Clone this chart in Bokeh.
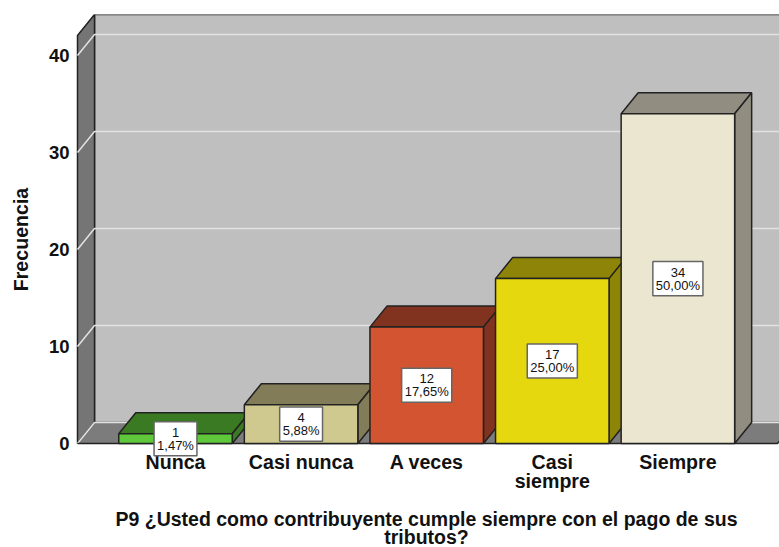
from bokeh.plotting import figure
from bokeh.models import Label, FixedTicker
from bokeh.embed import file_html
from bokeh.resources import INLINE

categories = ["Nunca", "Casi nunca", "A veces", "Casi\nsiempre", "Siempre"]
counts = [1, 4, 12, 17, 34]
percents = ["1,47%", "5,88%", "17,65%", "25,00%", "50,00%"]
front_colors = ["#5EC83A", "#D0C98F", "#D25430", "#E6D80E", "#EBE6D0"]
shade_colors = ["#3A7A22", "#827C58", "#82331F", "#8E8508", "#918D80"]
y_ticks = [0, 10, 20, 30, 40]

PX_X = 125.6
PX_Y = 9.7
DX = 17 / PX_X
DY = 21 / PX_Y
BAR_W = 113.5 / PX_X
X_LEFT = (77 - 175) / PX_X
X_RIGHT = (777 - 175) / PX_X
Y_TOP = (443 - 35) / PX_Y
EDGE = "#222222"

p = figure(width=779, height=547, output_backend="svg", toolbar_location=None,
           x_range=((73 - 175) / PX_X, (779 - 175) / PX_X), y_range=(-21 / PX_Y, (464 - 14) / PX_Y - 21 / PX_Y),
           frame_width=706, frame_height=450,
           min_border_left=73, min_border_right=0, min_border_top=14, min_border_bottom=83,
           outline_line_color=None, background_fill_color="white")
p.grid.visible = False

# walls and floor
p.patch([X_LEFT + DX, X_RIGHT + DX, X_RIGHT + DX, X_LEFT + DX], [DY, DY, Y_TOP + DY, Y_TOP + DY],
        fill_color="#BFBFBF", line_color=EDGE, line_width=1.5)
p.patch([X_LEFT, X_LEFT + DX, X_LEFT + DX, X_LEFT], [0, DY, Y_TOP + DY, Y_TOP],
        fill_color="#757575", line_color=EDGE, line_width=1.5)
p.patch([X_LEFT, X_LEFT + DX, X_RIGHT + DX, X_RIGHT], [0, DY, DY, 0],
        fill_color="#7C7C7C", line_color=None)
p.multi_line([[X_LEFT, X_LEFT + DX, X_RIGHT + DX] for _ in y_ticks],
             [[t, t + DY, t + DY] for t in y_ticks], line_color="#E2E2E2", line_width=1.5)
p.line([X_LEFT, X_RIGHT, X_RIGHT + DX], [0, 0, DY], line_color=EDGE, line_width=1.5)

# bars
for i, (c, fc, sc) in enumerate(zip(counts, front_colors, shade_colors)):
    l, r = i - BAR_W / 2, i + BAR_W / 2
    p.patch([l, r, r + DX, l + DX], [c, c, c + DY, c + DY], fill_color=sc, line_color=EDGE, line_width=1.5)
    p.patch([r, r + DX, r + DX, r], [0, DY, c + DY, c], fill_color=sc, line_color=EDGE, line_width=1.5)
    p.quad(left=l, right=r, bottom=0, top=c, fill_color=fc, line_color=EDGE, line_width=1.5)

# value boxes
for i, (c, q) in enumerate(zip(counts, percents)):
    p.add_layout(Label(x=i, y=c / 2, text=f"{c}\n{q}", text_align="center", text_baseline="middle",
                       text_font="Liberation Sans", text_font_size="13px", text_color="#111111",
                       text_line_height=0.87, padding=3,
                       background_fill_color="white", border_line_color="#666666", border_line_width=1.5))

# axes
p.yaxis.ticker = FixedTicker(ticks=y_ticks)
p.yaxis.axis_line_color = None
p.yaxis.major_tick_line_color = None
p.yaxis.minor_tick_line_color = None
p.yaxis.major_tick_out = 0
p.yaxis.major_label_standoff = 4
p.yaxis.major_label_text_font = "Liberation Sans"
p.yaxis.major_label_text_font_style = "bold"
p.yaxis.major_label_text_font_size = "18.5px"
p.yaxis.major_label_text_color = "#111111"
p.yaxis.axis_label = "Frecuencia"
p.yaxis.axis_label_text_font = "Liberation Sans"
p.yaxis.axis_label_text_font_style = "bold"
p.yaxis.axis_label_text_font_size = "19.6px"
p.yaxis.axis_label_text_color = "#111111"
p.yaxis.axis_label_standoff = 14

p.xaxis.ticker = FixedTicker(ticks=list(range(len(categories))))
p.xaxis.major_label_overrides = {i: c for i, c in enumerate(categories)}
p.xaxis.axis_line_color = None
p.xaxis.major_tick_line_color = None
p.xaxis.minor_tick_line_color = None
p.xaxis.major_tick_out = 0
p.xaxis.major_label_standoff = -14
p.xaxis.major_label_text_font = "Liberation Sans"
p.xaxis.major_label_text_font_style = "bold"
p.xaxis.major_label_text_font_size = "19.6px"
p.xaxis.major_label_text_color = "#111111"
p.xaxis.major_label_text_line_height = 0.87
p.xaxis.axis_label = "P9 ¿Usted como contribuyente cumple siempre con el pago de sus\ntributos?"
p.xaxis.axis_label_text_font = "Liberation Sans"
p.xaxis.axis_label_text_font_style = "bold"
p.xaxis.axis_label_text_font_size = "19.5px"
p.xaxis.axis_label_text_color = "#111111"
p.xaxis.axis_label_text_line_height = 0.85
p.xaxis.axis_label_standoff = 13

open("out.html", "w").write(file_html(p, INLINE))
